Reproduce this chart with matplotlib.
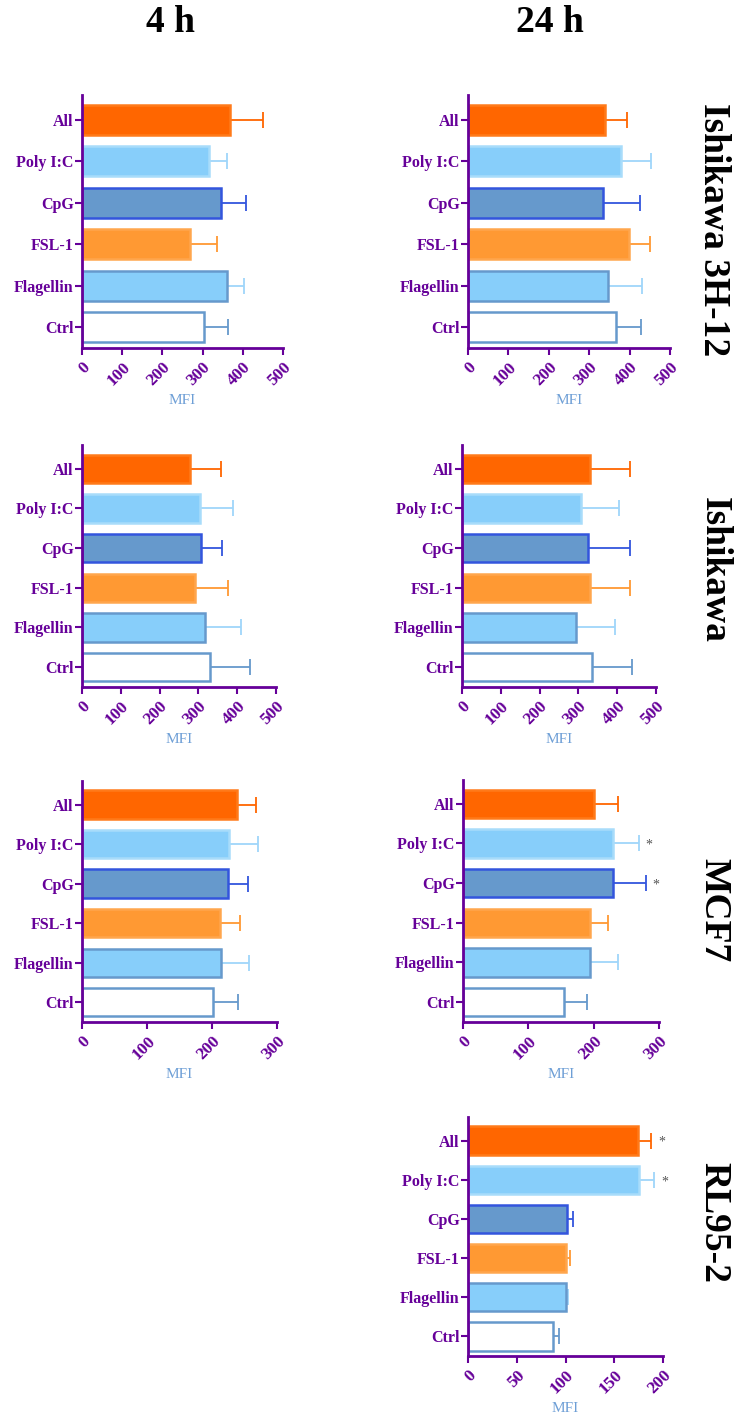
import numpy as np
import matplotlib
matplotlib.use("Agg")
import matplotlib.pyplot as plt

# Categories (bottom to top)
labels = ["Ctrl", "Flagellin", "FSL-1", "CpG", "Poly I:C", "All"]

# Mean MFI and mean+SD, order matches labels
ish3h_4h = [303, 360, 268, 346, 317, 368]
ish3h_4h_top = [363, 403, 336, 408, 360, 450]
ish3h_24h = [366, 347, 399, 335, 379, 340]
ish3h_24h_top = [428, 431, 450, 426, 453, 393]

ish_4h = [329, 316, 290, 307, 305, 278]
ish_4h_top = [434, 411, 377, 361, 389, 357]
ish_24h = [336, 293, 330, 325, 306, 331]
ish_24h_top = [438, 395, 433, 433, 405, 433]

mcf_4h = [201, 214, 213, 224, 226, 239]
mcf_4h_top = [240, 257, 243, 256, 270, 268]
mcf_24h = [154, 195, 194, 229, 230, 201]
mcf_24h_top = [190, 237, 222, 280, 269, 237]

rl_24h = [87, 100, 100.5, 102, 175, 174]
rl_24h_top = [93, 103, 105, 108, 191, 188]

# significance stars
mcf_24h_star = [False, False, False, True, True, False]
rl_24h_star = [False, False, False, False, True, True]

# Colors
PURPLE = "#660099"
MFI_BLUE = "#6E9FD6"
fills = ["white", "#87CEFA", "#FF9933", "#6699CC", "#87CEFA", "#FF6600"]
edges = ["#6699CC", "#6699CC", "#FFA64D", "#3355DD", "#A8DCFA", "#FF7A1A"]
errc = ["#6699CC", "#9FD6FA", "#FF9933", "#3355DD", "#9FD6FA", "#FF6600"]

W, H = 735, 1420
fig = plt.figure(figsize=(W / 100, H / 100), dpi=100)
serif = "Liberation Serif"


def panel(x0, x1, y0, y1, vals, tops, xmax, xstep, stars=None):
    ax = fig.add_axes([x0 / W, 1 - y1 / H, (x1 - x0) / W, (y1 - y0) / H])
    y = np.arange(len(labels))
    ax.barh(y, vals, height=0.72, color=fills, edgecolor=edges, linewidth=1.8, zorder=2)
    for i in range(len(labels)):
        ax.errorbar(vals[i], y[i], xerr=[[0], [tops[i] - vals[i]]], fmt="none",
                    ecolor=errc[i], elinewidth=1.3, capsize=6, capthick=1.3, zorder=1)
        if stars is not None and stars[i]:
            ax.text(tops[i] + xmax * 0.035, y[i] - 0.05, "*", color="#555555",
                    fontsize=10, family=serif, ha="left", va="center")
    ax.set_xlim(0, xmax)
    ax.set_ylim(-0.5, 5.6)
    ax.set_yticks(y)
    ax.set_yticklabels(labels, fontsize=11.5, fontweight="bold", family=serif, color=PURPLE)
    ticks = np.arange(0, xmax + 1, xstep)
    ax.set_xticks(ticks)
    ax.set_xticklabels([str(int(t)) for t in ticks], rotation=45, ha="right",
                       rotation_mode="anchor", fontsize=12.5, fontweight="bold",
                       family=serif, color=PURPLE)
    ax.tick_params(axis="both", colors=PURPLE, width=1.5, length=5)
    ax.tick_params(axis="y", pad=1)
    ax.tick_params(axis="x", pad=3)
    for s in ["top", "right"]:
        ax.spines[s].set_visible(False)
    for s in ["left", "bottom"]:
        ax.spines[s].set_color(PURPLE)
        ax.spines[s].set_linewidth(2)
    ax.set_xlabel("MFI", family=serif, fontsize=11, color=MFI_BLUE, labelpad=4)
    return ax


panel(82, 283, 95, 348, ish3h_4h, ish3h_4h_top, 500, 100)
panel(468, 670, 95, 348, ish3h_24h, ish3h_24h_top, 500, 100)
panel(82, 276, 445, 687, ish_4h, ish_4h_top, 500, 100)
panel(462, 656, 445, 687, ish_24h, ish_24h_top, 500, 100)
panel(82, 277, 781, 1022, mcf_4h, mcf_4h_top, 300, 100)
panel(463, 659, 780, 1022, mcf_24h, mcf_24h_top, 300, 100, mcf_24h_star)
panel(468, 663, 1117, 1356, rl_24h, rl_24h_top, 200, 50, rl_24h_star)

# column titles
fig.text(170 / W, 1 - 22 / H, "4 h", family=serif, fontweight="bold", fontsize=27,
         ha="center", va="center")
fig.text(550 / W, 1 - 22 / H, "24 h", family=serif, fontweight="bold", fontsize=27,
         ha="center", va="center")

# row titles
rows = ["Ishikawa 3H-12", "Ishikawa", "MCF7", "RL95-2"]
row_y = [230, 570, 910, 1223]
for name, yy in zip(rows, row_y):
    fig.text(714 / W, 1 - yy / H, name, family=serif, fontweight="bold", fontsize=27,
             rotation=-90, ha="center", va="center")

fig.savefig("out.png", dpi=100)
